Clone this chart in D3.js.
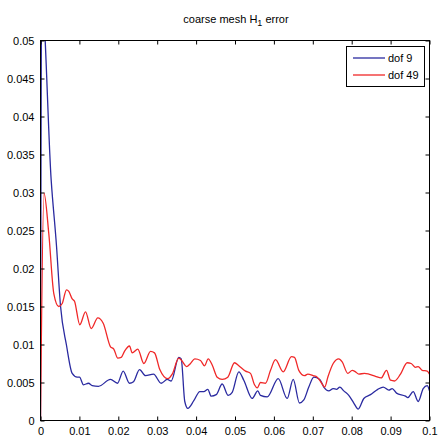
<!DOCTYPE html>
<html>
<head>
<meta charset="utf-8">
<script src="https://cdn.jsdelivr.net/npm/d3@7"></script>
<style>
  html, body { margin: 0; padding: 0; background: #fff; }
  svg { display: block; }
  text { font-family: "Liberation Sans", Arial, Helvetica, sans-serif; }
</style>
</head>
<body>
<svg id="chart" width="440" height="440"></svg>
<script>
const title = "coarse mesh H";
const titleSub = "1";
const titleEnd = " error";
const seriesNames = ["dof 9", "dof 49"];
const seriesColors = ["#2a2aa0", "#f02828"];

const xTicks = [0, 0.01, 0.02, 0.03, 0.04, 0.05, 0.06, 0.07, 0.08, 0.09, 0.1];
const xTickLabels = ["0", "0.01", "0.02", "0.03", "0.04", "0.05", "0.06", "0.07", "0.08", "0.09", "0.1"];
const yTicks = [0, 0.005, 0.01, 0.015, 0.02, 0.025, 0.03, 0.035, 0.04, 0.045, 0.05];
const yTickLabels = ["0", "0.005", "0.01", "0.015", "0.02", "0.025", "0.03", "0.035", "0.04", "0.045", "0.05"];

// dof 9 (blue)
const tDof9 = [0, 0.0003, 0.00275, 0.00411, 0.00514, 0.00668, 0.00815, 0.00943, 0.01003, 0.01105, 0.01234, 0.01329, 0.01491, 0.01799, 0.01979, 0.02126, 0.02288, 0.02391, 0.02545, 0.02699, 0.02905, 0.03103, 0.03257, 0.0336, 0.03555, 0.03617, 0.03709, 0.03787, 0.03941, 0.04095, 0.04198, 0.04301, 0.04388, 0.04517, 0.04671, 0.04825, 0.04928, 0.05098, 0.05226, 0.05442, 0.05586, 0.05656, 0.05828, 0.06111, 0.06342, 0.06496, 0.06658, 0.06769, 0.06897, 0.07026, 0.0718, 0.07283, 0.07411, 0.07524, 0.07609, 0.07694, 0.07797, 0.07925, 0.08054, 0.08167, 0.08311, 0.08483, 0.08671, 0.0881, 0.08954, 0.09041, 0.09152, 0.09383, 0.09442, 0.09581, 0.09709, 0.09838, 0.09941, 0.1];
const vDof9 = [0, 0.056, 0.0316, 0.0230, 0.0151, 0.0099, 0.0062, 0.0057, 0.0057, 0.0047, 0.0049, 0.0046, 0.0045, 0.0054, 0.0049, 0.0065, 0.0049, 0.0051, 0.0067, 0.0059, 0.0061, 0.0049, 0.0054, 0.0052, 0.0083, 0.0081, 0.0025, 0.0016, 0.0026, 0.0038, 0.0038, 0.0041, 0.0032, 0.0034, 0.0048, 0.0033, 0.0037, 0.0064, 0.0053, 0.0029, 0.0039, 0.0033, 0.0031, 0.0055, 0.0029, 0.0054, 0.0023, 0.0027, 0.0044, 0.0057, 0.0054, 0.0044, 0.0039, 0.0042, 0.0041, 0.0044, 0.0039, 0.0033, 0.0023, 0.0015, 0.0029, 0.0034, 0.0041, 0.0044, 0.0040, 0.0042, 0.0036, 0.0032, 0.0030, 0.0038, 0.0025, 0.0042, 0.0046, 0.0039];

// dof 49 (red)
const tDof49 = [0, 0.0009, 0.00213, 0.00342, 0.0047, 0.00558, 0.00668, 0.00728, 0.00815, 0.00874, 0.0101, 0.01157, 0.01303, 0.01473, 0.01612, 0.018, 0.01884, 0.01987, 0.02075, 0.02159, 0.02288, 0.02357, 0.02501, 0.02656, 0.02828, 0.02931, 0.03067, 0.03272, 0.03386, 0.03555, 0.03643, 0.03753, 0.03856, 0.03967, 0.04113, 0.04216, 0.04311, 0.04414, 0.04542, 0.04671, 0.04815, 0.04987, 0.05098, 0.0527, 0.05398, 0.05501, 0.05571, 0.05656, 0.05784, 0.05913, 0.06041, 0.06239, 0.06452, 0.0653, 0.0664, 0.06787, 0.06872, 0.0701, 0.07113, 0.07216, 0.07308, 0.07386, 0.07524, 0.07668, 0.07756, 0.079, 0.08013, 0.08098, 0.08183, 0.08329, 0.0844, 0.08612, 0.08758, 0.08895, 0.08997, 0.091, 0.09254, 0.09427, 0.09529, 0.0964, 0.09709, 0.09812, 0.09941, 0.1];
const vDof49 = [0, 0.0299, 0.0246, 0.0167, 0.0150, 0.0154, 0.0172, 0.0170, 0.0160, 0.0157, 0.0126, 0.0143, 0.0121, 0.0135, 0.0128, 0.0097, 0.0094, 0.0082, 0.0083, 0.0091, 0.0098, 0.0089, 0.0094, 0.0075, 0.0091, 0.0089, 0.0067, 0.0055, 0.0061, 0.0082, 0.0078, 0.0071, 0.0075, 0.0081, 0.0079, 0.0072, 0.0081, 0.0073, 0.0057, 0.0054, 0.0057, 0.0076, 0.0072, 0.0065, 0.0062, 0.0047, 0.0043, 0.0050, 0.0049, 0.0066, 0.0080, 0.0064, 0.0084, 0.0083, 0.0066, 0.0059, 0.0061, 0.0059, 0.0057, 0.0050, 0.0044, 0.0057, 0.0075, 0.0081, 0.0077, 0.0062, 0.0066, 0.0064, 0.0061, 0.0062, 0.0061, 0.0058, 0.0056, 0.0066, 0.0053, 0.0052, 0.0061, 0.0076, 0.0075, 0.0070, 0.0071, 0.0066, 0.0065, 0.0061];

const series = [
  { name: seriesNames[0], color: seriesColors[0], pts: tDof9.map((t, i) => [t, vDof9[i]]) },
  { name: seriesNames[1], color: seriesColors[1], pts: tDof49.map((t, i) => [t, vDof49[i]]) }
];

const svg = d3.select("#chart");
const L = 40.5, R = 429.5, T = 40.5, B = 420.5;

const x = d3.scaleLinear().domain([0, 0.1]).range([L, R]);
const y = d3.scaleLinear().domain([0, 0.05]).range([B, T]);

svg.append("defs").append("clipPath").attr("id", "clip")
  .append("rect").attr("x", L).attr("y", T).attr("width", R - L).attr("height", B - T);

// lines
const line = d3.line().x(d => x(d[0])).y(d => y(d[1])).curve(d3.curveMonotoneX);
const g = svg.append("g").attr("clip-path", "url(#clip)");
series.forEach(s => {
  g.append("path").attr("d", line(s.pts)).attr("fill", "none")
    .attr("stroke", s.color).attr("stroke-width", 1.3).attr("stroke-linejoin", "round");
});

// axes
const fmtX = d => xTickLabels[xTicks.indexOf(d)];
const fmtY = d => yTickLabels[yTicks.indexOf(d)];
function styleAxis(sel) {
  sel.select(".domain").remove();
  sel.selectAll(".tick line").attr("stroke", "#000").attr("stroke-width", 1);
  sel.selectAll("text").attr("font-size", 11).attr("fill", "#000")
    .attr("font-family", "'Liberation Sans', Arial, sans-serif");
}
svg.append("g").attr("transform", `translate(0,${B})`)
  .call(d3.axisBottom(x).tickValues(xTicks).tickFormat(fmtX).tickSize(-4).tickPadding(7))
  .call(styleAxis);
svg.append("g").attr("transform", `translate(0,${T})`)
  .call(d3.axisTop(x).tickValues(xTicks).tickFormat("").tickSize(-4))
  .call(styleAxis);
svg.append("g").attr("transform", `translate(${L},0)`)
  .call(d3.axisLeft(y).tickValues(yTicks).tickFormat(fmtY).tickSize(-4).tickPadding(6))
  .call(styleAxis);
svg.append("g").attr("transform", `translate(${R},0)`)
  .call(d3.axisRight(y).tickValues(yTicks).tickFormat("").tickSize(-4))
  .call(styleAxis);

// frame
svg.append("rect").attr("x", L).attr("y", T).attr("width", R - L).attr("height", B - T)
  .attr("fill", "none").attr("stroke", "#000").attr("stroke-width", 1);

// title
const tt = svg.append("text").attr("x", (L + R) / 2 + 1).attr("y", 23)
  .attr("text-anchor", "middle").attr("font-size", 11).attr("fill", "#000");
tt.append("tspan").text(title);
tt.append("tspan").attr("dy", 3).attr("font-size", 9).text(titleSub);
tt.append("tspan").attr("dy", -3).text(titleEnd);

// legend
const lg = svg.append("g");
lg.append("rect").attr("x", 346.5).attr("y", 46.5).attr("width", 78).attr("height", 40)
  .attr("fill", "#fff").attr("stroke", "#000").attr("stroke-width", 1);
series.forEach((s, i) => {
  const cy = 58 + i * 17;
  lg.append("line").attr("x1", 353).attr("x2", 385).attr("y1", cy).attr("y2", cy)
    .attr("stroke", s.color).attr("stroke-width", 1.3);
  lg.append("text").attr("x", 388).attr("y", cy).attr("dy", "0.35em")
    .attr("font-size", 11).attr("fill", "#000").text(s.name);
});
</script>
</body>
</html>
